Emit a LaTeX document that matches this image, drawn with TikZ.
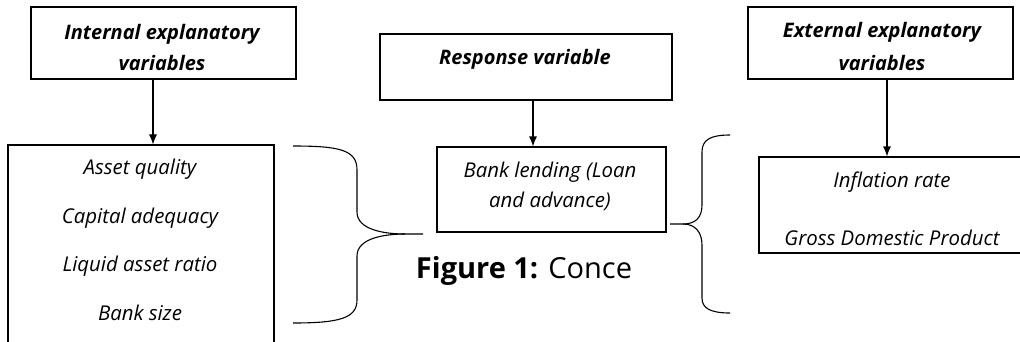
\documentclass[tikz,border=0pt]{standalone}
\usepackage{fontspec}
\setmainfont{Open Sans}
\usetikzlibrary{arrows.meta,positioning}

\tikzset{
    box/.style={draw, line width=1.1pt, inner sep=0pt},
    item/.style={font=\fontsize{20.4}{24}\selectfont\itshape, inner sep=0pt, anchor=base},
    head/.style={font=\fontsize{20}{24}\selectfont\bfseries\itshape, inner sep=0pt, anchor=base},
    link/.style={-{Latex[length=10pt,width=8pt]}, line width=1.1pt},
    brace/.style={line width=1.1pt},
}

\begin{document}
\begin{tikzpicture}[x=1pt,y=-1pt]
    \useasboundingbox (0,0) rectangle (1020,341);
    \clip (0,0) rectangle (1020,341);
    % internal side
    \node[box, minimum width=265pt, minimum height=72pt] (intl) at (163.5,43) {};
    \node[head] (intlA) at (162,39) {Internal explanatory};
    \node[head] (intlB) at (162,70) {variables};
    \node[box, minimum width=266pt, minimum height=200pt] (intlbox) at (141,245) {};
    \foreach[count=\i] \t in {Asset quality, Capital adequacy, Liquid asset ratio, Bank size} {
        \node[item] (intl\i) at (140, {174.5+48.5*(\i-1)}) {\t};
    };
    \draw[link] ([xshift=-10.5pt]intl.south) -- ([xshift=12pt]intlbox.north);
    % response
    \node[box, minimum width=292pt, minimum height=66pt] (resp) at (526,67) {};
    \node[head] (respA) at (525,64) {Response variable};
    \node[box, minimum width=229pt, minimum height=85pt] (lend) at (551.5,189.5) {};
    \node[item] (lendA) at (550,177) {Bank lending (Loan};
    \node[item] (lendB) at (550,207) {and advance)};
    \draw[link] ([xshift=7pt]resp.south) -- ([xshift=-18.5pt]lend.north);
    \node[anchor=base, inner sep=0pt, font=\fontsize{29}{34}\selectfont] (cap) at (524,278) {\textbf{Figure 1:} Conce};
    % external side
    \node[box, minimum width=265pt, minimum height=72pt] (extl) at (880.5,43) {};
    \node[head] (extlA) at (882,37) {External explanatory};
    \node[head] (extlB) at (882,70) {variables};
    \node[box, minimum width=266pt, minimum height=96pt] (extlbox) at (892,205) {};
    \node[item] (extl1) at (892,187) {Inflation rate};
    \node[item] (extl2) at (892,245) {Gross Domestic Product};
    \draw[link] ([xshift=6.5pt]extl.south) -- ([xshift=-5pt]extlbox.north);
    % braces
    \draw[brace] (293,146) .. controls (340,146) and (357,150) .. (357,170) -- (357,212)
        .. controls (357,230) and (385,234) .. (405,234) -- (423,234);
    \draw[brace] (405,234) .. controls (385,234) and (357,238) .. (357,256) -- (357,300)
        .. controls (357,318) and (340,323) .. (293,323);
    \draw[brace] (730,135) .. controls (710,135) and (702,140) .. (702,152) -- (702,205)
        .. controls (702,218) and (695,224) .. (683,224) -- (670,224);
    \draw[brace] (683,224) .. controls (695,224) and (702,232) .. (702,245) -- (702,298)
        .. controls (702,308) and (710,313) .. (730,313);
\end{tikzpicture}
\end{document}
